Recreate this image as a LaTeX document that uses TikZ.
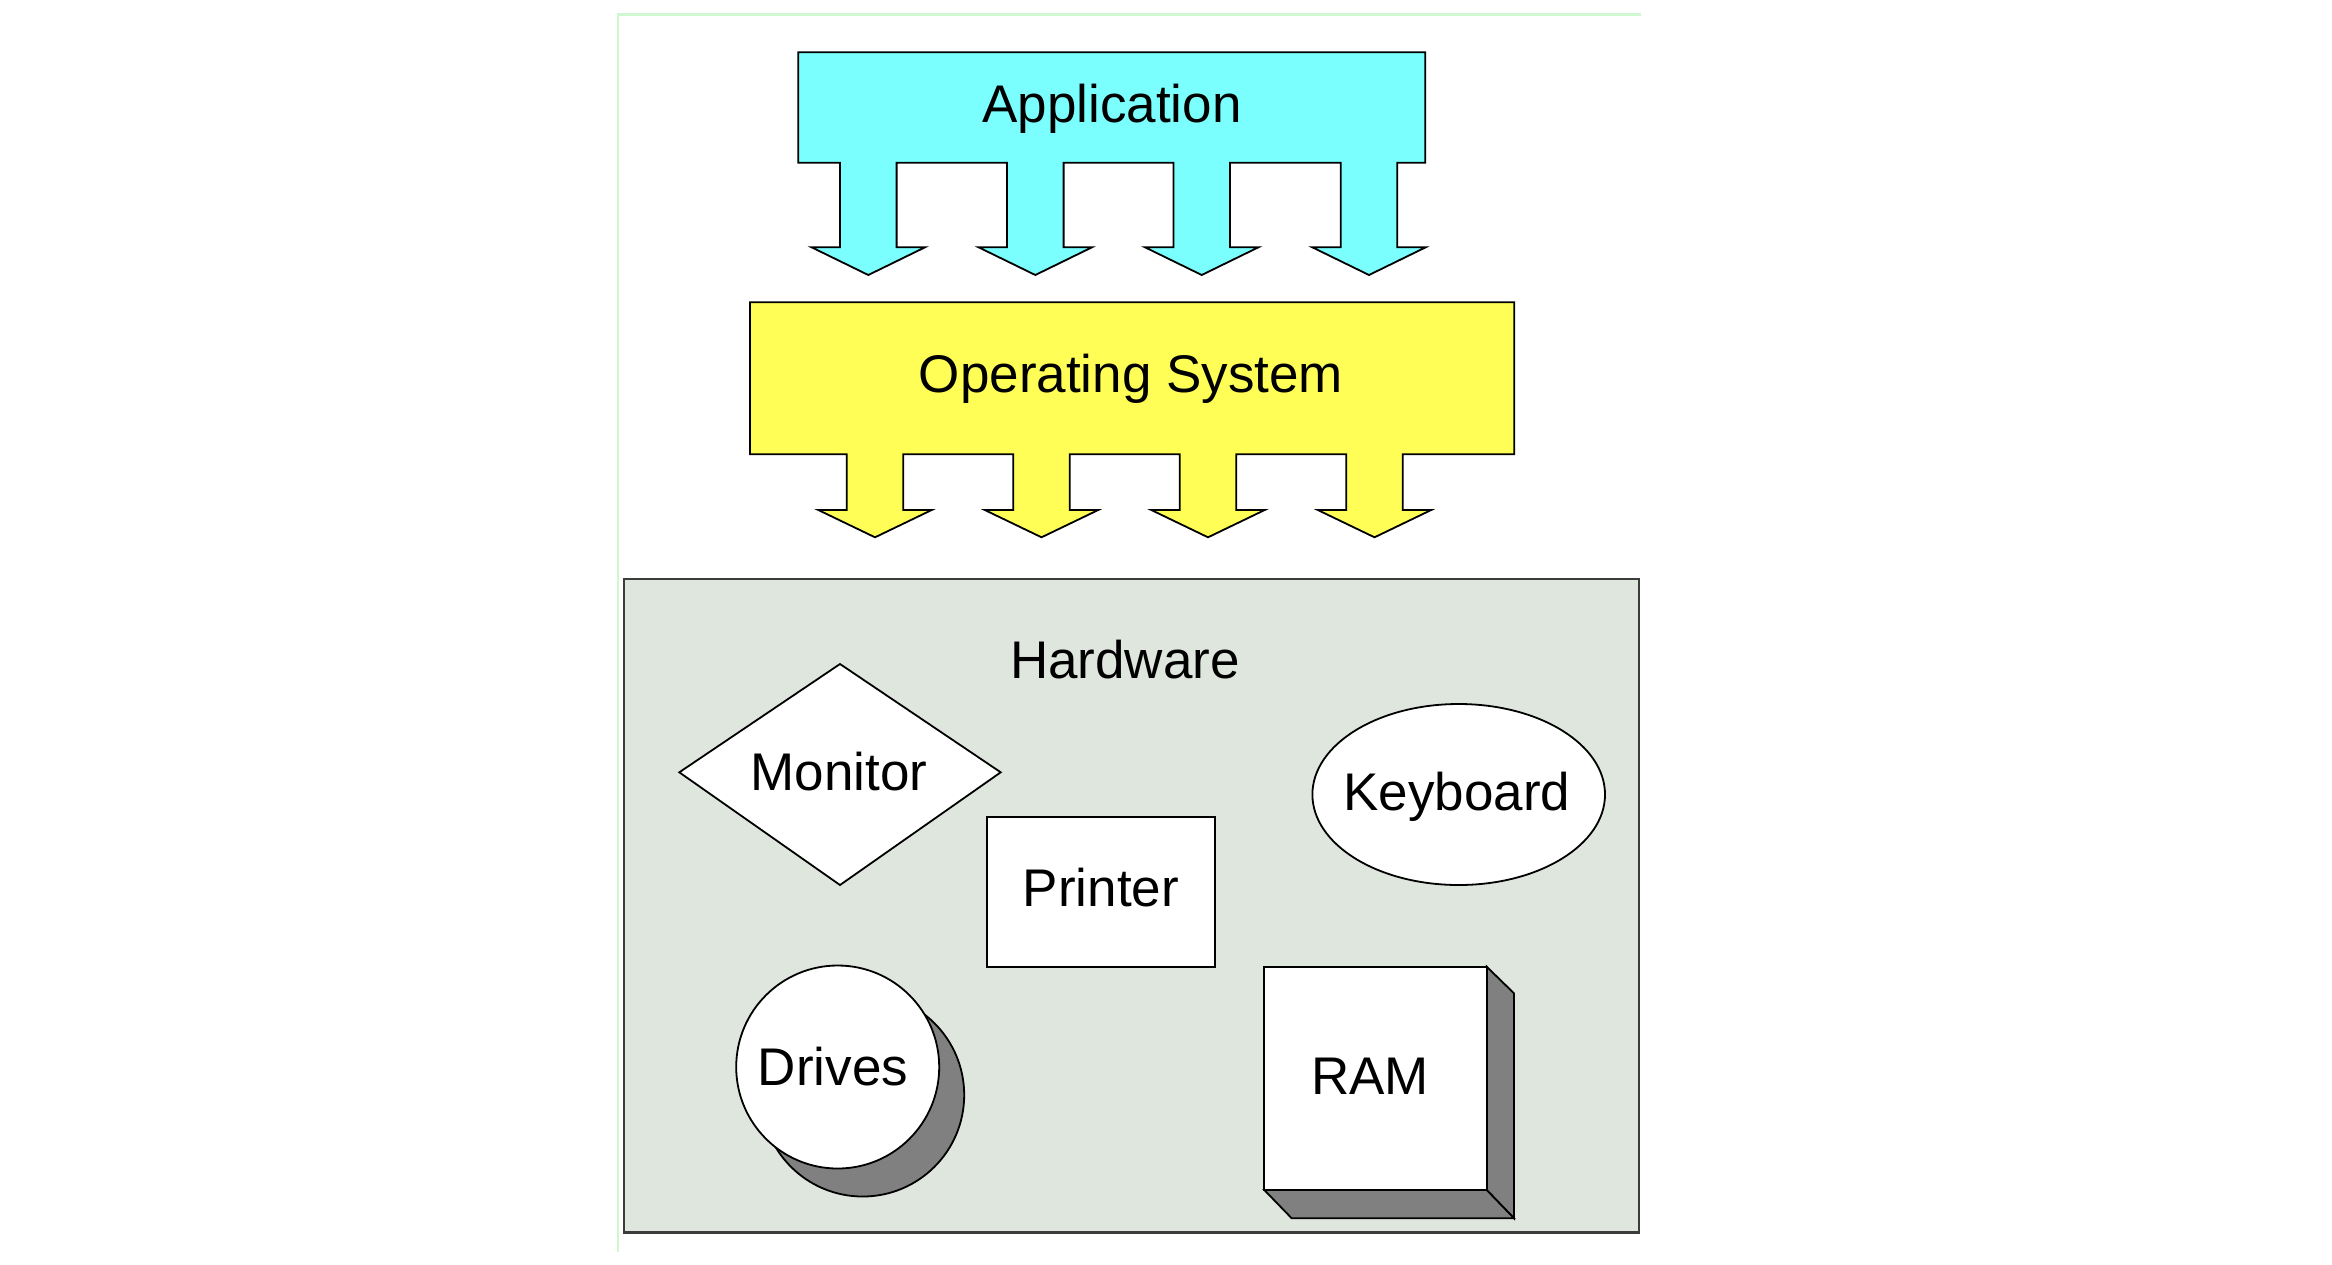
\documentclass[tikz,border=0pt]{standalone}
\usepackage{fontspec}
\setmainfont{Liberation Sans}
\definecolor{appcyan}{RGB}{122,254,254}
\definecolor{osyellow}{RGB}{255,254,86}
\definecolor{hwfill}{RGB}{223,230,222}
\definecolor{framegreen}{RGB}{208,248,208}
\definecolor{shadowgray}{RGB}{128,128,128}
\definecolor{hwline}{RGB}{60,60,60}
\tikzset{
  lbl/.style={anchor=base, inner sep=0pt, font=\fontsize{26.5}{30}\selectfont},
  outl/.style={draw=black, line width=0.9pt, line join=miter},
}
\begin{document}
\begin{tikzpicture}[x=0.5pt,y=-0.5pt]
\useasboundingbox[fill=white] (0,0) rectangle (2332,1264);
% faint frame
\draw[framegreen, line width=1.2pt] (618,1252) -- (618,14.3) -- (1641,14.3);
% Application block with arrows
\path[outl, fill=appcyan] (798.3,52.3) -- (1425.3,52.3) -- (1425.3,162.7)
  foreach \c in {1369,1201.7,1035.3,868.3} {
    -- (\c+28.3,162.7) -- (\c+28.3,247.3) -- (\c+56.7,247.3) -- (\c,275)
    -- (\c-56.7,247.3) -- (\c-28.3,247.3) -- (\c-28.3,162.7) }
  -- (798.3,162.7) -- cycle;
\node[lbl] (app) at (1112,122) {Application};
% Operating system block with arrows
\path[outl, fill=osyellow] (750,302.3) -- (1514.3,302.3) -- (1514.3,454.3)
  foreach \c in {1374.5,1208,1041.5,875} {
    -- (\c+28.3,454.3) -- (\c+28.3,510) -- (\c+56.7,510) -- (\c,537.3)
    -- (\c-56.7,510) -- (\c-28.3,510) -- (\c-28.3,454.3) }
  -- (750,454.3) -- cycle;
\node[lbl] (os) at (1131,392.7) {Operating System};
% Hardware area
\draw[draw=hwline, fill=hwfill, line width=1.3pt] (624,579) rectangle (1639,1232.7);
\node[lbl] (hw) at (1125,678.3) {Hardware};
% Monitor diamond
\draw[outl, fill=white] (840,664) -- (1000.7,772.3) -- (840,885) -- (679.3,772.3) -- cycle;
\node[lbl] (monitor) at (839,790) {Monitor};
% Printer
\draw[outl, fill=white] (986.7,816.7) rectangle (1215,966.7);
\node[lbl] (printer) at (1101,906) {Printer};
% Keyboard ellipse
\draw[outl, fill=white] (1458.7,794.5) ellipse [x radius=73.15pt, y radius=45.25pt];
\node[lbl] (keyboard) at (1457,810) {Keyboard};
% Drives
\draw[outl, fill=shadowgray] (862.7,1095) circle [radius=50.75pt];
\draw[outl, fill=white] (837.7,1067) circle [radius=50.75pt];
\node[lbl] (drives) at (833,1085) {Drives};
% RAM box
\draw[outl, fill=shadowgray] (1486.7,966.7) -- (1514,993.3) -- (1514,1218.3) -- (1486.7,1190) -- cycle;
\draw[outl, fill=shadowgray] (1264.3,1190) -- (1291.7,1218.3) -- (1514,1218.3) -- (1486.7,1190) -- cycle;
\draw[outl, fill=white] (1264.3,966.7) rectangle (1486.7,1190);
\node[lbl] (ram) at (1370,1094) {RAM};
\end{tikzpicture}
\end{document}
